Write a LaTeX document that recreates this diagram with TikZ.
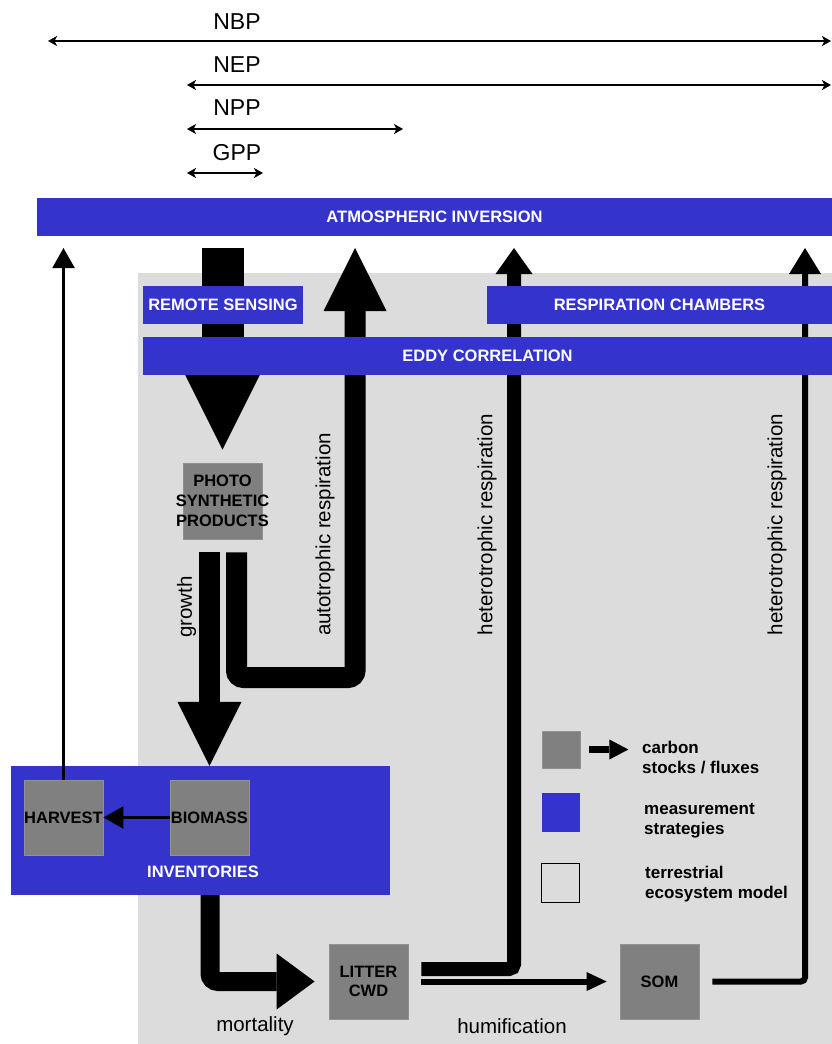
\documentclass[tikz,border=0pt]{standalone}
\usepackage{fontspec}
\setmainfont{Liberation Sans}
\usetikzlibrary{arrows.meta}
\definecolor{mblue}{RGB}{52,52,204}
\definecolor{cgray}{RGB}{128,128,128}
\definecolor{cgrayedge}{RGB}{145,145,145}
\definecolor{bggray}{RGB}{220,220,220}
\pgfdeclarelayer{back}
\pgfdeclarelayer{flux}
\pgfsetlayers{back,flux,main}
\begin{document}
\begin{tikzpicture}[x=1pt,y=-1pt,
  bluebar/.style={fill=mblue, draw=none, text=white, font=\fontsize{16.5}{18}\selectfont\bfseries, inner sep=0pt, anchor=center},
  stock/.style={fill=cgray, draw=cgrayedge, line width=0.8pt, minimum width=79pt, minimum height=75pt, inner sep=0pt, align=center, font=\fontsize{16.5}{20}\selectfont\bfseries},
  lbl/.style={font=\fontsize{20.5}{22}\selectfont, inner sep=0pt},
  toplbl/.style={font=\fontsize{23}{24}\selectfont, inner sep=0pt},
  legtxt/.style={font=\fontsize{17}{20}\selectfont\bfseries, inner sep=0pt, align=left, anchor=west},
  dimarrow/.style={line width=2.2pt, {Stealth[length=9pt,width=10pt,inset=2.5pt]}-{Stealth[length=9pt,width=10pt,inset=2.5pt]}},
  thinarrow/.style={line width=2.2pt, -{Triangle[length=20pt,width=22pt]}}
]
\useasboundingbox (0,0) rectangle (832,1044);

% background (terrestrial ecosystem model)
\begin{pgfonlayer}{back}
\fill[bggray] (138,273) rectangle (832,1044);
\end{pgfonlayer}

% top dimension arrows
\node[toplbl] (nbp) at (237,22) {NBP};
\node[toplbl] (nep) at (237,65) {NEP};
\node[toplbl] (npp) at (237,108) {NPP};
\node[toplbl] (gpp) at (237,153) {GPP};
\coordinate (nbpL) at (48,41);  \coordinate (nbpR) at (831,41);
\coordinate (nepL) at (187,85); \coordinate (nepR) at (831,85);
\coordinate (nppL) at (187,129); \coordinate (nppR) at (403,129);
\coordinate (gppL) at (187,173); \coordinate (gppR) at (263,173);
\draw[dimarrow] (nbpL) -- (nbpR);
\draw[dimarrow] (nepL) -- (nepR);
\draw[dimarrow] (nppL) -- (nppR);
\draw[dimarrow] (gppL) -- (gppR);

% measurement strategies
\node[bluebar, minimum width=795pt, minimum height=38pt] (atm) at (434.5,217) {ATMOSPHERIC INVERSION};
\node[bluebar, minimum width=160pt, minimum height=38pt] (rs) at (223,305) {REMOTE SENSING};
\node[bluebar, minimum width=345pt, minimum height=38pt] (rc) at (659.5,305) {RESPIRATION CHAMBERS};
\node[bluebar, minimum width=689pt, minimum height=38pt] (ec) at (487.5,356) {EDDY CORRELATION};
\node[bluebar, minimum width=379pt, minimum height=129pt] (inv) at (200.5,830.5) {};
\node[bluebar] (invlbl) at (203,872) {INVENTORIES};

% carbon stocks
\node[stock, minimum height=76pt] (photo) at (222.5,501) {\makebox[0pt]{PHOTO}\\\makebox[0pt]{SYNTHETIC}\\\makebox[0pt]{PRODUCTS}};
\node[stock] (harvest) at (63.5,817.5) {\makebox[0pt]{HARVEST}};
\node[stock] (biomass) at (209.5,817.5) {\makebox[0pt]{BIOMASS}};
\node[stock, font=\fontsize{16.5}{19}\selectfont\bfseries] (litter) at (368.5,981.5) {LITTER\\CWD};
\node[stock] (som) at (659.5,981.5) {SOM};

% coordinates for fluxes
\coordinate (top) at (0,248);
\coordinate (rs0) at (photo.north |- top);
\coordinate (ph) at ([yshift=13pt]photo.north);
\coordinate (g0) at ([shift={(-13pt,-13pt)}]photo.south);
\coordinate (a0) at ([shift={(14pt,-13pt)}]photo.south);
\coordinate (a1) at (236.5,677.5);
\coordinate (a2) at (355,677.5);
\coordinate (h0) at ([shift={(13pt,12.5pt)}]litter.east);
\coordinate (h1) at (514,969);
\coordinate (u0) at ([xshift=13pt]litter.east);
\coordinate (u1) at ([xshift=-13pt]som.west);
\coordinate (s0) at ([xshift=13pt]som.east);
\coordinate (s1) at (805,981.5);
\coordinate (m0) at ([xshift=9.5pt]inv.south);
\coordinate (m1) at (210,981.5);
\coordinate (m2) at ([xshift=-14pt]litter.west);

\begin{pgfonlayer}{flux}
% photosynthesis (GPP)
\draw[line width=42pt, -{Triangle[length=75pt,width=75pt,line width=0pt]}] (rs0) -- (ph);
% growth
\draw[line width=21pt, -{Triangle[length=64pt,width=64pt,line width=0pt]}] (g0) -- (g0 |- inv.north);
% autotrophic respiration
\draw[line width=21pt, rounded corners=7pt, -{Triangle[length=63pt,width=63pt,line width=0pt]}] (a0) -- (a1) -- (a2) -- (a2 |- top);
% heterotrophic respiration (litter)
\draw[line width=14pt, rounded corners=5pt, -{Triangle[length=26pt,width=37pt,line width=0pt]}] (h0) -- (h1) -- (h1 |- top);
% heterotrophic respiration (SOM)
\draw[line width=6pt, rounded corners=4pt, -{Triangle[length=26pt,width=32pt,line width=0pt]}] (s0) -- (s1) -- (s1 |- top);
% humification
\draw[line width=6pt, -{Triangle[length=20pt,width=19pt,line width=0pt]}] (u0) -- (u1);
% mortality
\draw[line width=19pt, rounded corners=8pt, -{Triangle[length=38pt,width=56pt,line width=0pt]}] (m0) -- (m1) -- (m2);
\end{pgfonlayer}

% harvest fluxes
\draw[thinarrow] (biomass.west) -- (harvest.east);
\draw[thinarrow] (harvest.north) -- (harvest.north |- top);

% flux labels
\node[lbl, rotate=90] (lgrowth) at (186.5,607) {growth};
\node[lbl, rotate=90] (lauto) at (325,534.5) {autotrophic respiration};
\node[lbl, rotate=90] (lhet1) at (487,524.5) {heterotrophic respiration};
\node[lbl, rotate=90] (lhet2) at (777,524.5) {heterotrophic respiration};
\node[lbl] (lmort) at (255,1026) {mortality};
\node[lbl] (lhum) at (512,1026) {humification};

% legend
\node[stock, minimum width=38pt, minimum height=37pt] (lgray) at (561,749.5) {};
\draw[line width=7pt, -{Triangle[length=19pt,width=20pt,line width=0pt]}] ([xshift=9pt]lgray.east) -- ([xshift=48pt]lgray.east);
\node[legtxt] (lt1) at (642,758) {carbon\\stocks / fluxes};
\node[fill=mblue, minimum width=38pt, minimum height=39pt, inner sep=0pt] (lblue) at (561,812.5) {};
\node[legtxt] (lt2) at (644,821) {measurement\\strategies};
\node[fill=bggray, draw=black, line width=1.2pt, minimum width=38pt, minimum height=39pt, inner sep=0pt] (lwhite) at (560.5,883) {};
\node[legtxt] (lt3) at (645,884) {terrestrial\\ecosystem model};
\end{tikzpicture}
\end{document}
